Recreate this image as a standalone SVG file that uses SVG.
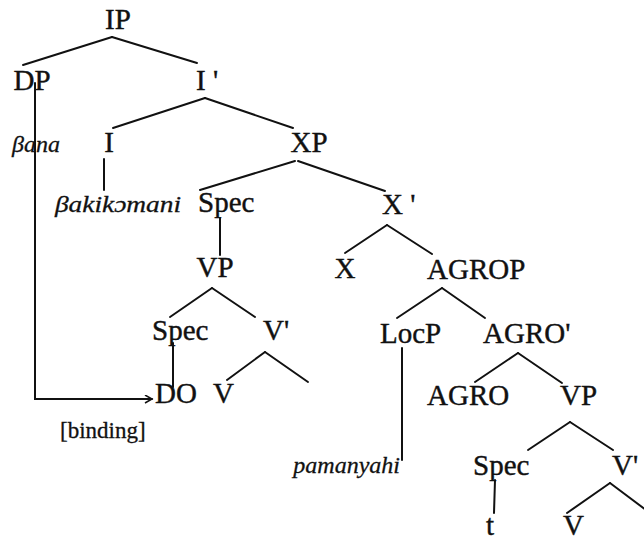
<svg xmlns="http://www.w3.org/2000/svg" width="644" height="540" viewBox="0 0 644 540">
<style>
.n{font-family:"Liberation Serif","Times New Roman",serif;font-size:29px;fill:#111;stroke:#111;stroke-width:0.4}
.it{font-family:"Liberation Serif","Times New Roman",serif;font-style:italic;font-size:24px;fill:#111;stroke:#111;stroke-width:0.3}
.sm{font-family:"Liberation Serif","Times New Roman",serif;font-size:23px;fill:#111;stroke:#111;stroke-width:0.3}
.e{stroke:#111;stroke-width:2;fill:none;stroke-linecap:round}
</style>
<defs>
<marker id="ah" markerWidth="10" markerHeight="10" refX="8" refY="4" orient="auto" markerUnits="userSpaceOnUse">
<path d="M1,0 L8,4 L1,8" fill="none" stroke="#111" stroke-width="1.5"/>
</marker>
</defs>
<rect width="644" height="540" fill="#fff"/>
<g id="connectors">
<line class="e" x1="112" y1="37" x2="23" y2="65"/>
<line class="e" x1="112" y1="37" x2="197" y2="63"/>
<line class="e" x1="205" y1="98" x2="113" y2="128"/>
<line class="e" x1="205" y1="98" x2="293" y2="128"/>
<line class="e" x1="104" y1="159" x2="104" y2="190"/>
<line class="e" x1="295" y1="161" x2="200" y2="190"/>
<line class="e" x1="298" y1="161" x2="385" y2="191"/>
<line class="e" x1="220" y1="218" x2="220" y2="255"/>
<line class="e" x1="212" y1="288" x2="170" y2="317"/>
<line class="e" x1="212" y1="288" x2="255" y2="317"/>
<line class="e" x1="387" y1="225" x2="345" y2="253"/>
<line class="e" x1="387" y1="225" x2="432" y2="254"/>
<line class="e" x1="265" y1="352" x2="227" y2="380"/>
<line class="e" x1="265" y1="352" x2="308" y2="382"/>
<line class="e" x1="173" y1="343" x2="173" y2="387"/>
<line class="e" x1="442" y1="288" x2="397" y2="318"/>
<line class="e" x1="442" y1="288" x2="485" y2="318"/>
<line class="e" x1="402" y1="348" x2="402" y2="460"/>
<line class="e" x1="518" y1="353" x2="475" y2="382"/>
<line class="e" x1="518" y1="353" x2="562" y2="383"/>
<line class="e" x1="570" y1="422" x2="528" y2="450"/>
<line class="e" x1="570" y1="422" x2="613" y2="450"/>
<line class="e" x1="495" y1="480" x2="494" y2="513"/>
<line class="e" x1="610" y1="483" x2="567" y2="513"/>
<line class="e" x1="610" y1="483" x2="646" y2="510"/>
<path class="e" d="M35,83 V399 H152" marker-end="url(#ah)"/>
</g>
<g id="IP"><text class="n" x="118" y="29" text-anchor="middle">IP</text></g>
<g id="DP"><text class="n" x="32" y="90" text-anchor="middle">DP</text></g>
<g id="Ibar"><text class="n" x="196" y="90">I '</text></g>
<g id="I"><text class="n" x="109" y="152" text-anchor="middle">I</text></g>
<g id="bana"><text class="it" x="12" y="152">βana</text></g>
<g id="XP"><text class="n" x="309" y="152" text-anchor="middle">XP</text></g>
<g id="bakikomani"><text class="it" x="55" y="212" textLength="126" lengthAdjust="spacingAndGlyphs">βakikɔmani</text></g>
<g id="Spec1"><text class="n" x="198" y="212">Spec</text></g>
<g id="Xbar"><text class="n" x="382" y="214">X '</text></g>
<g id="VP1"><text class="n" x="215" y="277" text-anchor="middle">VP</text></g>
<g id="X"><text class="n" x="345" y="278" text-anchor="middle">X</text></g>
<g id="AGROP"><text class="n" x="427" y="279">AGROP</text></g>
<g id="Spec2"><text class="n" x="152" y="340">Spec</text></g>
<g id="Vbar1"><text class="n" x="263" y="340">V'</text></g>
<g id="LocP"><text class="n" x="380" y="343">LocP</text></g>
<g id="AGRObar"><text class="n" x="483" y="343">AGRO'</text></g>
<g id="DO"><text class="n" x="155" y="403">DO</text></g>
<g id="V1"><text class="n" x="213" y="403">V</text></g>
<g id="AGRO"><text class="n" x="427" y="405">AGRO</text></g>
<g id="VP2"><text class="n" x="560" y="405">VP</text></g>
<g id="binding"><text class="sm" x="60" y="438">[binding]</text></g>
<g id="pamanyahi"><text class="it" x="400" y="473" text-anchor="end">pamanyahi</text></g>
<g id="Spec3"><text class="n" x="473" y="475">Spec</text></g>
<g id="Vbar2"><text class="n" x="612" y="475">V'</text></g>
<g id="t"><text class="n" x="486" y="535">t</text></g>
<g id="V2"><text class="n" x="563" y="535">V</text></g>
</svg>
